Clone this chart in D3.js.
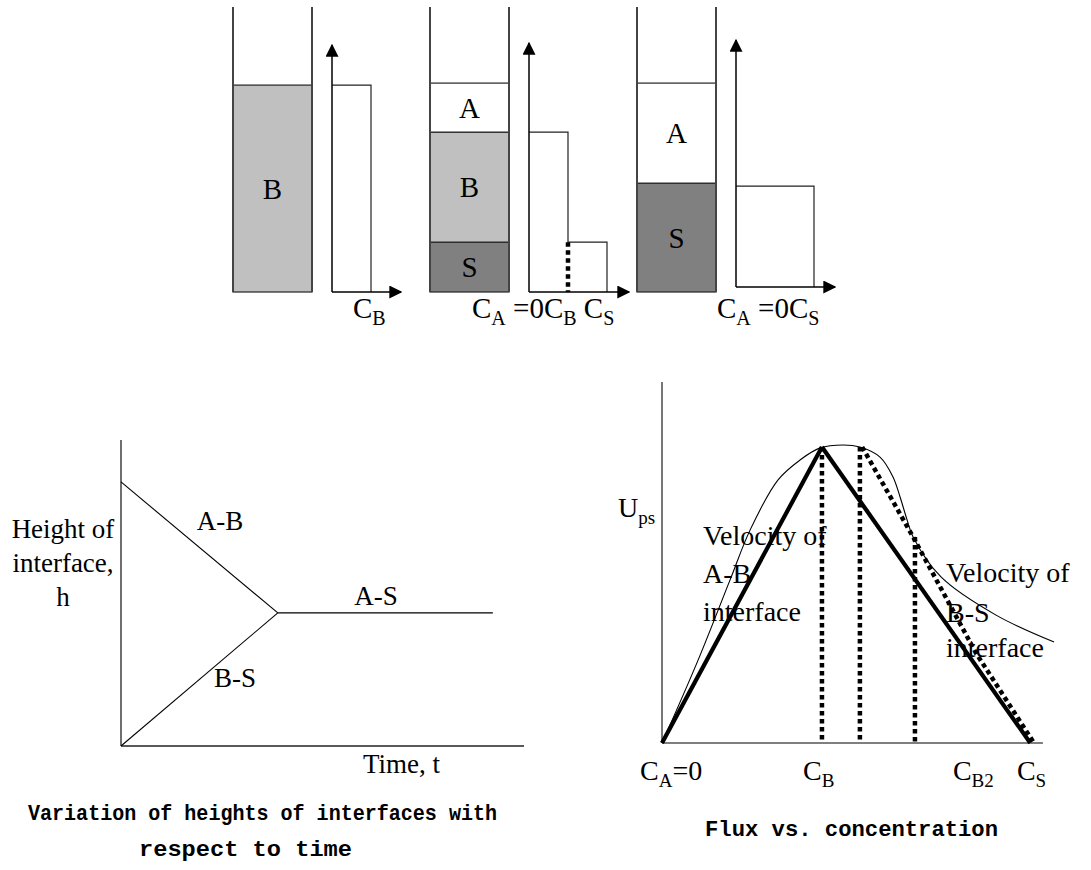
<!DOCTYPE html>
<html>
<head>
<meta charset="utf-8">
<script src="https://cdnjs.cloudflare.com/ajax/libs/d3/7.8.5/d3.min.js"></script>
<style>
  body { margin: 0; background: #fff; }
  text { font-family: "Liberation Serif", "Times New Roman", serif; fill: #000; }
  .cap { font-family: "Liberation Mono", "DejaVu Sans Mono", monospace; font-weight: bold; }
</style>
</head>
<body>
<svg id="vimage" width="1091" height="870"></svg>
<script>
//---------------------------------------- data ---------------------------------------
// layers in the settling tubes, heights in % of tube height
var tube1Layers = [{name: "B", lo: 0, hi: 72.6}];
var tube2Layers = [{name: "S", lo: 0, hi: 17.5}, {name: "B", lo: 17.5, hi: 56.1}, {name: "A", lo: 56.1, hi: 73.3}];
var tube3Layers = [{name: "S", lo: 0, hi: 38.2}, {name: "A", lo: 38.2, hi: 73.3}];

// concentration profiles next to each tube (c: concentration, C_S = 1)
var profile1 = [{c: 0.5, h: 72.6}];
var profile2 = [{c: 0.5, h: 56.1}, {c: 1, h: 17.5}];
var profile3 = [{c: 1, h: 35.4}];

// interface heights vs time
var abLine = [{t: 0, h: 8.63}, {t: 3.93, h: 4.35}];
var bsLine = [{t: 0, h: 0}, {t: 3.93, h: 4.35}];
var asLine = [{t: 3.93, h: 4.35}, {t: 9.32, h: 4.35}];
var interfaceNames = ["A-B", "B-S", "A-S"];

// flux vs concentration
var fluxCurve = [[0, 0], [0.097, 0.28], [0.183, 0.551], [0.237, 0.72], [0.312, 0.889], [0.371, 0.956],
                 [0.425, 0.997], [0.487, 1.007], [0.532, 1.0], [0.586, 0.966], [0.621, 0.899], [0.64, 0.831],
                 [0.659, 0.753], [0.675, 0.696], [0.75, 0.561], [0.898, 0.432], [1.054, 0.341]];
var velAB = [[0, 0], [0.43, 1]];
var velBS = [[0.43, 1], [0.99, 0]];
var bsChord = [[0.538, 1.0], [0.675, 0.696], [0.844, 0.304], [1.0, 0]];
var dropLines = [{c: 0.43, top: 1.0}, {c: 0.532, top: 1.0}, {c: 0.68, top: 0.696}];
var concTicks = [{main: "C", sub: "A", tail: "=0", at: -0.059},
                 {main: "C", sub: "B", tail: "", at: 0.379},
                 {main: "C", sub: "B2", tail: "", at: 0.782},
                 {main: "C", sub: "S", tail: "", at: 0.954}];

var svg = d3.select("#vimage");
svg.append("defs").append("marker")
    .attr("id", "arrow").attr("viewBox", "0 0 10 10")
    .attr("refX", 9).attr("refY", 5)
    .attr("markerWidth", 13).attr("markerHeight", 13)
    .attr("markerUnits", "userSpaceOnUse")
    .attr("orient", "auto")
  .append("path").attr("d", "M0,0L10,5L0,10Z").attr("fill", "#000");

// writes "C" + subscript pieces as one text element
function subText(g, x, y, parts, size) {
    var t = g.append("text").attr("x", x).attr("y", y).style("font-size", size + "px");
    parts.forEach(function (p) {
        if (p.sub) {
            t.append("tspan").attr("dy", 7).style("font-size", Math.round(size * 0.68) + "px").text(p.sub);
            t.append("tspan").attr("dy", -7).text(p.tail || "");
        } else {
            t.append("tspan").text(p.main);
        }
    });
    return t;
}

//---------------------------------------- tubes ---------------------------------------
var layerFill = {A: "#ffffff", B: "#c0c0c0", S: "#808080"};
var panels = [
    {layers: tube1Layers, profile: profile1, tubeX: 233, axisX: 332, base: 292, axisEnd: 401, arrowTop: 45,
     label: [{main: "C"}, {sub: "B"}], labelX: 353},
    {layers: tube2Layers, profile: profile2, tubeX: 430, axisX: 529, base: 292, axisEnd: 629, arrowTop: 43,
     label: [{main: "C"}, {sub: "A", tail: " =0C"}, {sub: "B", tail: " C"}, {sub: "S"}], labelX: 472},
    {layers: tube3Layers, profile: profile3, tubeX: 637, axisX: 736, base: 287, axisEnd: 835, arrowTop: 40,
     label: [{main: "C"}, {sub: "A", tail: " =0C"}, {sub: "S"}], labelX: 717}
];

panels.forEach(function (p) {
    var g = svg.append("g");
    var tubeW = 79;
    var hTube = d3.scaleLinear().domain([0, 100]).range([292, 7]);

    g.selectAll("rect.layer").data(p.layers).enter().append("rect")
        .attr("class", "layer")
        .attr("x", p.tubeX).attr("width", tubeW)
        .attr("y", function (d) { return hTube(d.hi); })
        .attr("height", function (d) { return hTube(d.lo) - hTube(d.hi); })
        .attr("fill", function (d) { return layerFill[d.name]; })
        .attr("stroke", "#222").attr("stroke-width", 1.2);

    g.selectAll("text.lab").data(p.layers).enter().append("text")
        .attr("class", "lab")
        .attr("x", p.tubeX + tubeW / 2)
        .attr("y", function (d) { return (hTube(d.lo) + hTube(d.hi)) / 2; })
        .attr("dy", "0.35em")
        .attr("text-anchor", "middle")
        .style("font-size", "29px")
        .text(function (d) { return d.name; });

    [p.tubeX, p.tubeX + tubeW].forEach(function (x) {
        g.append("line").attr("x1", x).attr("x2", x).attr("y1", 7).attr("y2", 292)
            .attr("stroke", "#444").attr("stroke-width", 2);
    });

    // concentration profile
    var cx = d3.scaleLinear().domain([0, 1]).range([p.axisX, p.axisX + 78]);
    var hy = d3.scaleLinear().domain([0, 100]).range([p.base, p.base - 285]);
    var pts = [[cx(0), hy(p.profile[0].h)]];
    p.profile.forEach(function (d, i) {
        pts.push([cx(d.c), hy(d.h)]);
        var next = p.profile[i + 1];
        pts.push([cx(d.c), hy(next ? next.h : 0)]);
    });
    g.append("path").attr("d", d3.line()(pts))
        .attr("fill", "none").attr("stroke", "#222").attr("stroke-width", 1.2);
    p.profile.slice(0, -1).forEach(function (d, i) {
        g.append("line").attr("x1", cx(d.c)).attr("x2", cx(d.c))
            .attr("y1", hy(p.profile[i + 1].h)).attr("y2", hy(0))
            .attr("stroke", "#000").attr("stroke-width", 4.5).attr("stroke-dasharray", "4.5,3.5");
    });

    g.append("line").attr("x1", p.axisX).attr("x2", p.axisX).attr("y1", p.base).attr("y2", p.arrowTop)
        .attr("stroke", "#000").attr("stroke-width", 1.5).attr("marker-end", "url(#arrow)");
    g.append("line").attr("x1", p.axisX).attr("x2", p.axisEnd).attr("y1", p.base).attr("y2", p.base)
        .attr("stroke", "#000").attr("stroke-width", 1.5).attr("marker-end", "url(#arrow)");

    subText(g, p.labelX, 318, p.label, 29);
});

//---------------------------------------- interface heights vs time ---------------------------------------
var tScale = d3.scaleLinear().domain([0, 10]).range([121, 520]);
var hScale = d3.scaleLinear().domain([0, 10]).range([746, 440]);
var lineTH = d3.line().x(function (d) { return tScale(d.t); }).y(function (d) { return hScale(d.h); });

var left = svg.append("g");
left.append("line").attr("x1", tScale(0)).attr("x2", tScale(0)).attr("y1", hScale(0)).attr("y2", hScale(10))
    .attr("stroke", "#222").attr("stroke-width", 1.3);
left.append("line").attr("x1", tScale(0)).attr("x2", tScale(10.1)).attr("y1", hScale(0)).attr("y2", hScale(0))
    .attr("stroke", "#222").attr("stroke-width", 1.3);

[abLine, bsLine, asLine].forEach(function (d) {
    left.append("path").attr("d", lineTH(d)).attr("fill", "none").attr("stroke", "#000").attr("stroke-width", 1.1);
});

var ifaceLabelPos = [[220, 530], [235, 687], [376, 605]];
interfaceNames.forEach(function (n, i) {
    left.append("text").attr("x", ifaceLabelPos[i][0]).attr("y", ifaceLabelPos[i][1])
        .attr("text-anchor", "middle").style("font-size", "27px").text(n);
});

["Height of", "interface,", "h"].forEach(function (s, i) {
    left.append("text").attr("x", 63).attr("y", 538 + i * 34)
        .attr("text-anchor", "middle").style("font-size", "27px").text(s);
});
left.append("text").attr("x", 363).attr("y", 773).style("font-size", "27px").text("Time, t");

left.append("text").attr("class", "cap").attr("x", 28).attr("y", 820)
    .attr("textLength", 469).attr("lengthAdjust", "spacingAndGlyphs")
    .style("font-size", "22px").text("Variation of heights of interfaces with");
left.append("text").attr("class", "cap").attr("x", 139).attr("y", 856)
    .attr("textLength", 213).attr("lengthAdjust", "spacingAndGlyphs")
    .style("font-size", "22px").text("respect to time");

//---------------------------------------- flux vs concentration ---------------------------------------
var cScale = d3.scaleLinear().domain([0, 1]).range([662, 1034]);
var fScale = d3.scaleLinear().domain([0, 1]).range([743, 447]);
var lineCF = d3.line().x(function (d) { return cScale(d[0]); }).y(function (d) { return fScale(d[1]); });

var right = svg.append("g");

right.append("text").attr("x", 703).attr("y", 545).style("font-size", "28px").text("Velocity of");
right.append("text").attr("x", 703).attr("y", 583).style("font-size", "28px").text("A-B");
right.append("text").attr("x", 703).attr("y", 621).style("font-size", "28px").text("interface");
right.append("text").attr("x", 946).attr("y", 582).style("font-size", "28px").text("Velocity of");
right.append("text").attr("x", 946).attr("y", 622).style("font-size", "28px").text("B-S");
right.append("text").attr("x", 946).attr("y", 657).style("font-size", "28px").text("interface");

right.append("line").attr("x1", cScale(0)).attr("x2", cScale(0)).attr("y1", fScale(0)).attr("y2", fScale(1.22))
    .attr("stroke", "#555").attr("stroke-width", 1.6);
right.append("line").attr("x1", cScale(0)).attr("x2", cScale(1.024)).attr("y1", fScale(0)).attr("y2", fScale(0))
    .attr("stroke", "#555").attr("stroke-width", 1.6);

right.append("path").attr("d", lineCF.curve(d3.curveCatmullRom)(fluxCurve))
    .attr("fill", "none").attr("stroke", "#000").attr("stroke-width", 1.1);
lineCF.curve(d3.curveLinear);

right.selectAll("line.drop").data(dropLines).enter().append("line")
    .attr("class", "drop")
    .attr("x1", function (d) { return cScale(d.c); }).attr("x2", function (d) { return cScale(d.c); })
    .attr("y1", function (d) { return fScale(d.top); }).attr("y2", fScale(0))
    .attr("stroke", "#000").attr("stroke-width", 4.5).attr("stroke-dasharray", "4.5,3.5");

right.append("path").attr("d", lineCF(bsChord))
    .attr("fill", "none").attr("stroke", "#000").attr("stroke-width", 4.5).attr("stroke-dasharray", "4.5,3.5");

[velAB, velBS].forEach(function (d) {
    right.append("path").attr("d", lineCF(d))
        .attr("fill", "none").attr("stroke", "#000").attr("stroke-width", 4.2).attr("stroke-linejoin", "miter");
});

subText(right, 618, 517, [{main: "U"}, {sub: "ps"}], 28);

concTicks.forEach(function (d) {
    subText(right, cScale(d.at), 780, [{main: d.main}, {sub: d.sub, tail: d.tail}], 28);
});

right.append("text").attr("class", "cap").attr("x", 705).attr("y", 836)
    .attr("textLength", 293).attr("lengthAdjust", "spacingAndGlyphs")
    .style("font-size", "22px").text("Flux vs. concentration");
</script>
</body>
</html>
